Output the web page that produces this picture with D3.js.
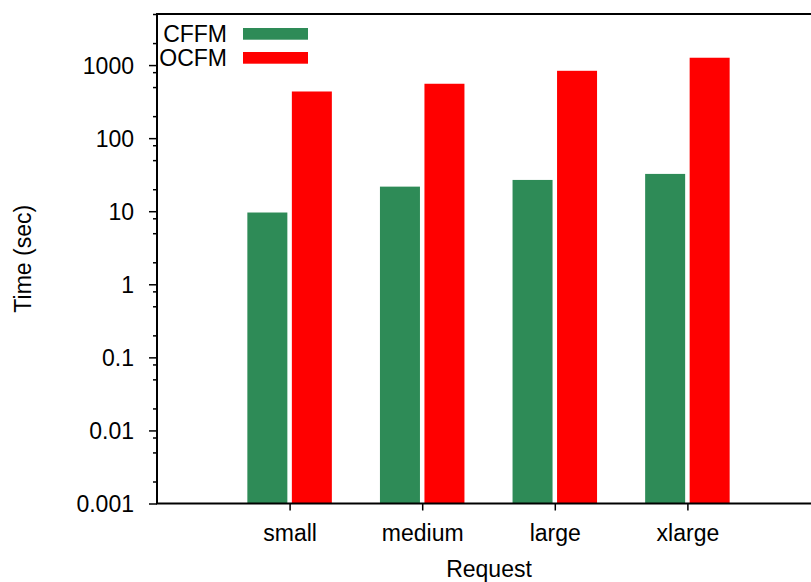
<!DOCTYPE html>
<html>
<head>
<meta charset="utf-8">
<script src="https://cdn.jsdelivr.net/npm/d3@7"></script>
<style>
  body { margin: 0; background: #fff; }
  svg { display: block; }
  text { font-family: "Liberation Sans", Arial, sans-serif; fill: #000; }
</style>
</head>
<body>
<svg id="chart" width="811" height="582"></svg>
<script>
// data
let categories = ["small", "medium", "large", "xlarge"]
let seriesNames = ["CFFM", "OCFM"]
let seriesColors = ["#2e8b57", "#ff0000"]
let cffm = [9.6, 21.7, 26.8, 32.4]
let ocfm = [435, 555, 835, 1260]
let yTicks = [1000, 100, 10, 1, 0.1, 0.01, 0.001]
let yTickLabels = ["1000", "100", "10", "1", "0.1", "0.01", "0.001"]

let svg = d3.select("#chart")
let plotLeft = 157, plotTop = 14, plotBottom = 503.5
let step = 132.6
let fontSize = 23

// categories sit on 1..4, axis spans 0..5 (right end runs off the picture)
let x = d3.scaleLinear()
    .domain([0, 5])
    .range([plotLeft, plotLeft + 5 * step])

let y = d3.scaleLog()
    .domain([0.001, 5000])
    .range([plotBottom, plotTop])

let barW = 40, gap = 4.5
let series = [cffm, ocfm]

series.forEach(function (vals, si) {
    svg.append("g")
        .selectAll("rect")
        .data(vals)
        .enter()
        .append("rect")
        .attr("x", (d, i) => si == 0 ? x(i + 1) - gap / 2 - barW : x(i + 1) + gap / 2)
        .attr("y", d => y(d))
        .attr("width", barW)
        .attr("height", d => plotBottom - y(d))
        .attr("fill", seriesColors[si])
})

// minor ticks at 2, 5, 8 of every decade
let minor = []
d3.range(-3, 4).forEach(function (e) {
    [2, 5, 8].forEach(m => {
        let v = m * Math.pow(10, e)
        if (v <= 5000) minor.push(v)
    })
})

let yAxis = svg.append("g")
    .attr("transform", "translate(" + plotLeft + ",0)")
    .call(d3.axisLeft(y).tickValues(yTicks).tickSize(8).tickPadding(15)
        .tickFormat((d, i) => yTickLabels[i]))
yAxis.select(".domain").remove()
yAxis.selectAll("line").attr("stroke", "#000").attr("stroke-width", 1.5)
yAxis.selectAll("text")
    .style("font-size", fontSize + "px")
    .attr("dy", "0.35em")

let yMinor = svg.append("g")
    .attr("transform", "translate(" + plotLeft + ",0)")
    .call(d3.axisLeft(y).tickValues(minor).tickSize(4).tickFormat(""))
yMinor.select(".domain").remove()
yMinor.selectAll("line").attr("stroke", "#000").attr("stroke-width", 1.5)

let xAxis = svg.append("g")
    .attr("transform", "translate(0," + plotBottom + ")")
    .call(d3.axisBottom(x).tickValues([1, 2, 3, 4]).tickSize(7).tickPadding(14)
        .tickFormat(d => categories[d - 1]))
xAxis.select(".domain").remove()
xAxis.selectAll("line").attr("stroke", "#000").attr("stroke-width", 1.5)
xAxis.selectAll("text")
    .style("font-size", fontSize + "px")
    .attr("dy", "0.71em")

// frame: left, top, bottom (no right edge inside the picture)
svg.append("path")
    .attr("d", "M811," + plotTop + "H" + plotLeft + "V" + plotBottom + "H811")
    .attr("fill", "none")
    .attr("stroke", "#000")
    .attr("stroke-width", 2)

// axis titles
svg.append("text")
    .attr("transform", "translate(31," + ((plotTop + plotBottom) / 2) + ") rotate(-90)")
    .attr("text-anchor", "middle")
    .style("font-size", fontSize + "px")
    .text("Time (sec)")

svg.append("text")
    .attr("x", 489)
    .attr("y", 577)
    .attr("text-anchor", "middle")
    .style("font-size", fontSize + "px")
    .text("Request")

// legend
let legend = svg.append("g")
seriesNames.forEach(function (name, i) {
    legend.append("text")
        .attr("x", 227)
        .attr("y", 41.5 + i * 24)
        .attr("text-anchor", "end")
        .style("font-size", fontSize + "px")
        .text(name)
    legend.append("rect")
        .attr("x", 243)
        .attr("y", 28 + i * 24)
        .attr("width", 65)
        .attr("height", 11.7)
        .attr("fill", seriesColors[i])
})
</script>
</body>
</html>
